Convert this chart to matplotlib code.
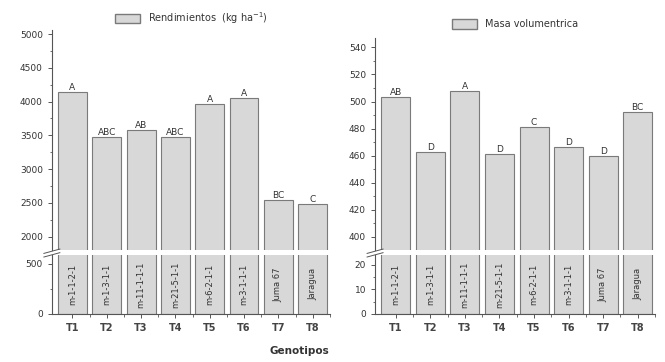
import numpy as np
import matplotlib.pyplot as plt
from matplotlib.patches import Patch

# data
trat = ["T1", "T2", "T3", "T4", "T5", "T6", "T7", "T8"]
genotipos = ["m-1-1-2-1", "m-1-3-1-1", "m-11-1-1-1", "m-21-5-1-1",
             "m-6-2-1-1", "m-3-1-1-1", "Juma 67", "Jaragua"]
rend = [4140, 3470, 3580, 3470, 3970, 4060, 2540, 2490]
rend_letras = ["A", "ABC", "AB", "ABC", "A", "A", "BC", "C"]
masa = [503, 463, 508, 461, 481, 466, 460, 492]
masa_letras = ["AB", "D", "A", "D", "C", "D", "D", "BC"]

fill = "#d8d8d8"
edge = "#7a7a7a"
txt = "#333333"
plt.rcParams['font.family'] = ['DejaVu Sans']

fig = plt.figure(figsize=(6.65, 3.62), dpi=100)
x = np.arange(len(trat))


def panel(left, width, top, vals, letras, up_lim, up_ticks, low_lim, low_ticks, minor_up, minor_low, leg):
    ax_up = fig.add_axes([left, 0.309, width, top - 0.309])
    ax_lo = fig.add_axes([left, 0.133, width, 0.163])
    for ax in (ax_up, ax_lo):
        ax.bar(x, vals, width=0.84, color=fill, edgecolor=edge, linewidth=0.8)
        ax.set_xlim(-0.6, 7.5)
        ax.spines['top'].set_visible(False)
        ax.spines['right'].set_visible(False)
        ax.spines['left'].set_color("#555555")
        ax.spines['bottom'].set_color("#555555")
        ax.tick_params(axis='both', labelsize=6.5, colors="#555555", labelcolor=txt,
                       direction='out', length=3, width=0.7)
        ax.tick_params(which='minor', length=1.8, width=0.6, colors="#555555")
    ax_up.set_ylim(*up_lim)
    ax_up.set_yticks(up_ticks)
    ax_up.set_yticks(minor_up, minor=True)
    ax_up.spines['bottom'].set_visible(False)
    ax_up.set_xticks([])
    ax_lo.set_ylim(*low_lim)
    ax_lo.set_yticks(low_ticks)
    ax_lo.set_yticks(minor_low, minor=True)
    ax_lo.set_xticks(x)
    ax_lo.set_xticklabels(trat, fontsize=7, fontweight='bold', color="#444444")
    ax_lo.set_xticks(x + 0.5, minor=True)
    for i, v in enumerate(vals):
        ax_up.text(i, v, letras[i], ha='center', va='bottom', fontsize=6.5, color=txt)
        ax_lo.text(i, low_lim[1] * 0.5, genotipos[i], rotation=90, ha='center', va='center',
                   fontsize=6, color=txt)
    # break marks on the y spine
    d = 0.012
    kw = dict(transform=fig.transFigure, color="#555555", lw=0.7, clip_on=False)
    fig.add_artist(plt.Line2D([left - d, left + d], [0.300, 0.312], **kw))
    fig.add_artist(plt.Line2D([left - d, left + d], [0.290, 0.302], **kw))
    ax_up.legend([Patch(facecolor=fill, edgecolor=edge)], [leg], loc='upper center',
                 bbox_to_anchor=(0.5, 1.13), frameon=False, fontsize=7,
                 handlelength=2.6, handleheight=1.1, labelcolor=txt)
    return ax_up, ax_lo


panel(0.078, 0.418, 0.917, rend, rend_letras, (1800, 5060),
      [2000, 2500, 3000, 3500, 4000, 4500, 5000], (0, 590), [0, 500],
      np.arange(2250, 5000, 500), [250],
      "Rendimientos  (kg ha$^{-1}$)")
panel(0.564, 0.421, 0.895, masa, masa_letras, (390, 547),
      np.arange(400, 541, 20), (0, 24), [0, 10, 20],
      np.arange(410, 545, 20), [5, 15],
      "Masa volumentrica")

fig.text(0.45, 0.03, "Genotipos", ha='center', va='center', fontsize=7.5,
         fontweight='bold', color=txt)

fig.savefig("out.png", dpi=100)
